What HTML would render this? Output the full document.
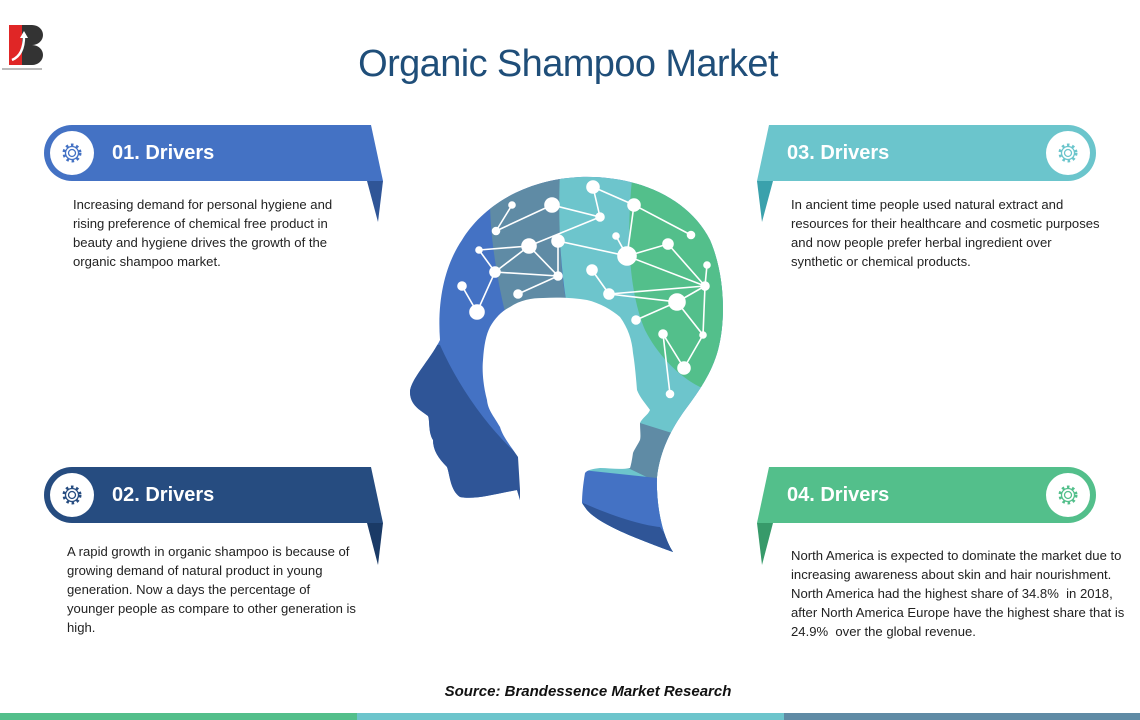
<!DOCTYPE html>
<html><head><meta charset="utf-8"><style>
*{margin:0;padding:0}
body{width:1140px;height:720px;position:relative;background:#fff;overflow:hidden;font-family:"Liberation Sans",sans-serif}
.t{position:absolute;white-space:nowrap}
.title{left:0;width:1136px;text-align:center;top:43px;font-size:38px;color:#1f4e79;letter-spacing:-0.6px}
.h{font-size:20px;font-weight:bold;color:#fff}
.p{font-size:13.1px;line-height:19px;color:#222}
</style></head><body>
<svg width="1140" height="720" style="position:absolute;left:0;top:0">
<!-- logo -->
<rect x="9" y="25" width="22" height="40" fill="#e02626"/>
<path d="M22,25 h10 a11,10 0 0 1 0,20 a11,10 0 0 1 0,20 h-10 z" fill="#333"/>
<path d="M12,60 Q24,55 24,36" stroke="#fff" stroke-width="2.5" fill="none"/>
<path d="M20,38 L24,31 L28,38z" fill="#fff"/>
<rect x="2" y="68" width="40" height="2" fill="#bbb"/>

<!-- banners -->
<g>
<path d="M72,125 H371 L383,181 H72 A28,28 0 0 1 72,125z" fill="#4472c4"/>
<path d="M367,181 H383 L378,222z" fill="#2f5597"/>
<circle cx="72" cy="153" r="22" fill="#fff"/>
<path d="M72,467 H371 L383,523 H72 A28,28 0 0 1 72,467z" fill="#264c80"/>
<path d="M367,523 H383 L378,565z" fill="#1a3a66"/>
<circle cx="72" cy="495" r="22" fill="#fff"/>
<path d="M1068,125 H769 L757,181 H1068 A28,28 0 0 0 1068,125z" fill="#6bc5cc"/>
<path d="M757,181 H773 L762,222z" fill="#3aa1ac"/>
<circle cx="1068" cy="153" r="22" fill="#fff"/>
<path d="M1068,467 H769 L757,523 H1068 A28,28 0 0 0 1068,467z" fill="#53bf8b"/>
<path d="M757,523 H773 L762,565z" fill="#379a6a"/>
<circle cx="1068" cy="495" r="22" fill="#fff"/>
</g>
<!-- gears -->
<g fill="none" stroke-width="1.3">
<g stroke="#4472c4" transform="translate(72,153)"><circle r="3.5"/><circle r="8" stroke-dasharray="2.5 2.7" stroke-width="3"/><circle r="6.5"/></g>
<g stroke="#264c80" transform="translate(72,495)"><circle r="3.5"/><circle r="8" stroke-dasharray="2.5 2.7" stroke-width="3"/><circle r="6.5"/></g>
<g stroke="#6bc5cc" transform="translate(1068,153)"><circle r="3.5"/><circle r="8" stroke-dasharray="2.5 2.7" stroke-width="3"/><circle r="6.5"/></g>
<g stroke="#53bf8b" transform="translate(1068,495)"><circle r="3.5"/><circle r="8" stroke-dasharray="2.5 2.7" stroke-width="3"/><circle r="6.5"/></g>
</g>

<!-- head -->
<defs>
<clipPath id="hc">
<path d="M410,392 C410,380 430,360 440,340 C437,300 445,265 462,240 C480,210 520,180 580,177 C640,175 690,200 710,240 C725,275 726,320 718,350 C712,372 700,390 685,410 C672,428 660,450 657,477 C656,505 662,535 673,552 C640,540 600,525 587,510 L582,503 L520,500 L517,490 C495,494 475,500 460,497 C450,490 450,475 447,467 C438,458 433,450 433,440 C428,432 430,420 428,416 C420,410 410,405 410,392z"/>
</clipPath>
</defs>
<g clip-path="url(#hc)">
<rect x="400" y="170" width="340" height="400" fill="#4472c4"/>
<path d="M490,170 L562,170 C558,220 560,270 566,300 L505,312 C495,270 490,230 490,200z" fill="#5f8ba5"/>
<path d="M560,170 L740,170 L740,570 L560,570 L566,300 C560,260 558,220 560,170z" fill="#6dc5cc"/>
<path d="M633,170 C626,230 628,290 645,330 C660,360 685,380 700,387 L740,387 L740,170z" fill="#53bf8b"/>
<path d="M640,423 L672,433 L657,482 L628,468z" fill="#5f8ba5"/>
<path d="M582,470 L657,478 L690,570 L582,570z" fill="#4472c4"/>
<path d="M583,503 C610,515 640,525 660,527 L690,570 L583,570z" fill="#2f5597"/>
<path d="M400,340 L440,345 C460,390 490,430 520,457 L520,570 L400,570z" fill="#2f5597"/>
</g>
<!-- child silhouette -->
<path d="M518,457 C510,445 503,437 500,427 C493,415 488,410 487,400 C483,385 482,370 483,360 C484,345 486,335 490,327 C495,318 502,311 510,307 C520,300 532,298 543,298 C560,297 575,298 587,300 C600,303 612,310 620,317 C628,328 632,340 633,353 C635,365 636,378 637,390 C640,398 646,404 650,410 C648,415 642,418 640,423 C640,430 641,436 640,440 C637,446 634,450 633,453 C632,460 631,465 630,468 C620,470 610,468 600,468 C592,469 587,470 585,473 C583,485 582,495 582,503 L582,720 L520,720 L520,490z" fill="#fff"/>
<!-- network -->
<g stroke="#fff" stroke-width="1.6" fill="#fff">
<path d="M593,187 L634,205 L691,235 M593,187 L600,217 L552,205 L496,231 L512,205 M600,217 L529,246 L479,250 L495,272 L477,312 L462,286 M529,246 L495,272 L558,276 M529,246 L558,276 L518,294 M558,276 L558,241 L627,256 L668,244 L705,286 M616,236 L627,256 M634,205 L627,256 L705,286 L707,265 M705,286 L609,294 L592,270 M609,294 L677,302 L636,320 M705,286 L677,302 L703,335 L684,368 L663,334 L670,394 M705,286 L703,335" fill="none"/>
<circle cx="593" cy="187" r="6"/><circle cx="552" cy="205" r="7"/><circle cx="600" cy="217" r="4"/>
<circle cx="634" cy="205" r="6"/><circle cx="512" cy="205" r="3"/><circle cx="496" cy="231" r="3.5"/>
<circle cx="529" cy="246" r="7"/><circle cx="479" cy="250" r="3"/><circle cx="495" cy="272" r="5"/>
<circle cx="558" cy="241" r="6"/><circle cx="616" cy="236" r="3"/><circle cx="627" cy="256" r="9"/>
<circle cx="668" cy="244" r="5"/><circle cx="592" cy="270" r="5"/><circle cx="609" cy="294" r="5"/>
<circle cx="462" cy="286" r="4"/><circle cx="477" cy="312" r="7"/><circle cx="518" cy="294" r="4"/>
<circle cx="558" cy="276" r="4"/><circle cx="691" cy="235" r="3.5"/><circle cx="705" cy="286" r="4"/>
<circle cx="707" cy="265" r="3"/><circle cx="677" cy="302" r="8"/><circle cx="636" cy="320" r="4"/>
<circle cx="663" cy="334" r="4"/><circle cx="703" cy="335" r="3"/><circle cx="684" cy="368" r="6"/>
<circle cx="670" cy="394" r="3.5"/>
</g>

<!-- bottom bar -->
<rect x="0" y="713" width="357" height="7" fill="#53bf8b"/>
<rect x="357" y="713" width="427" height="7" fill="#6dc5cc"/>
<rect x="784" y="713" width="356" height="7" fill="#5f8ba5"/>
</svg>

<div class="t title">Organic Shampoo Market</div>
<div class="t h" style="left:112px;top:142px">01. Drivers</div>
<div class="t h" style="left:112px;top:484px">02. Drivers</div>
<div class="t h" style="left:787px;top:142px">03. Drivers</div>
<div class="t h" style="left:787px;top:484px">04. Drivers</div>

<div class="t p" style="left:73px;top:195px">Increasing demand for personal hygiene and<br>rising preference of chemical free product in<br>beauty and hygiene drives the growth of the<br>organic shampoo market.</div>
<div class="t p" style="left:67px;top:542px">A rapid growth in organic shampoo is because of<br>growing demand of natural product in young<br>generation. Now a days the percentage of<br>younger people as compare to other generation is<br>high.</div>
<div class="t p" style="left:791px;top:195px">In ancient time people used natural extract and<br>resources for their healthcare and cosmetic purposes<br>and now people prefer herbal ingredient over<br>synthetic or chemical products.</div>
<div class="t p" style="left:791px;top:546px">North America is expected to dominate the market due to<br>increasing awareness about skin and hair nourishment.<br>North America had the highest share of 34.8%&nbsp; in 2018,<br>after North America Europe have the highest share that is<br>24.9%&nbsp; over the global revenue.</div>

<div class="t" style="left:0;width:1176px;text-align:center;top:683px;font-size:15px;font-weight:bold;font-style:italic;color:#111">Source: Brandessence Market Research</div>
</body></html>
